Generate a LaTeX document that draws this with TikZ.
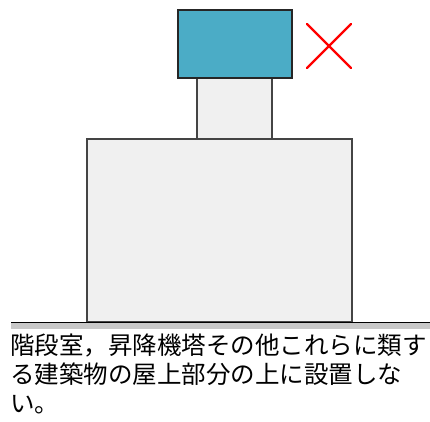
\documentclass[tikz,border=0pt]{standalone}
\usepackage{fontspec}
\newfontfamily\cjk{Noto Sans CJK JP}
\definecolor{teal}{HTML}{4BACC6}
\definecolor{boxgray}{HTML}{F0F0F0}
\definecolor{edgegray}{HTML}{444444}
\definecolor{bandgray}{HTML}{C8C8C8}
\begin{document}
\begin{tikzpicture}[x=1pt,y=-1pt,
  building/.style={draw=edgegray,line width=1.2pt,fill=boxgray},
  tower/.style={draw=black!85,line width=1.2pt,fill=teal},
  cross/.style={draw=red,line width=2.2pt,line cap=round}]
\useasboundingbox (0,0) rectangle (430,421);
% ground band
\fill[bandgray] (11,322) rectangle (430,329);
% buildings
\filldraw[building] (87,322) rectangle (352,139);
\filldraw[building] (197,139) rectangle (272,78);
\filldraw[tower] (178,10) rectangle (292,78);
\draw[black,line width=1pt] (11,322) -- (430,322);
% cross
\coordinate (c1) at (307,24);
\coordinate (c2) at (351,68);
\coordinate (c3) at (351,24);
\coordinate (c4) at (307,68);
\draw[cross] (c1) -- (c2);
\draw[cross] (c3) -- (c4);
% caption
\node[anchor=north west,inner sep=0pt,align=left,font=\cjk\fontsize{24.5pt}{29pt}\selectfont] (cap) at (10,334)
{階段室，昇降機塔その他これらに類す\\る建築物の屋上部分の上に設置しな\\い。};
\end{tikzpicture}
\end{document}
